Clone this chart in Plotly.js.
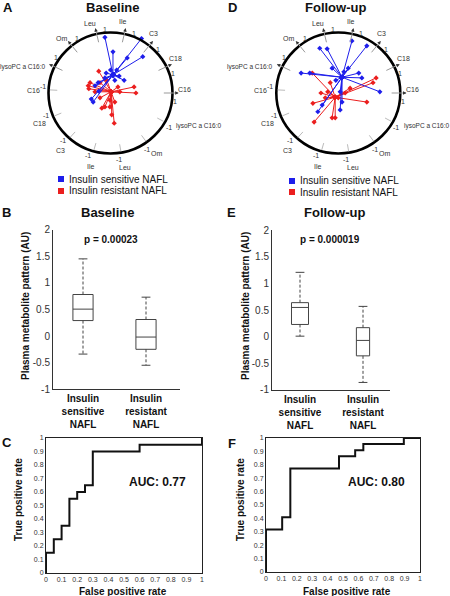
<!DOCTYPE html>
<html><head><meta charset="utf-8">
<script src="https://cdn.plot.ly/plotly-3.0.1.min.js"></script>
<style>html,body{margin:0;padding:0;background:#fff}#chart{width:450px;height:596px}</style>
</head><body><div id="chart"></div>
<script>
// ---------------- DATA ----------------
const metabolites = ['C16','C18','C3','Ile','Leu','Om','lysoPC a C16:0'];
const groupNames = ['Insulin sensitive NAFL','Insulin resistant NAFL'];

// Biplot scores (unit-circle coordinates) - Baseline
const baseSensHub = [0.04, 0.30];
const baseSensX = [-0.09,0.50,0.52,0.27,0.04,0.22,-0.09,-0.31,-0.19,-0.25,0.00,-0.07,0.07,-0.28,-0.20,0.14,0.10];
const baseSensY = [0.92,0.90,0.60,0.58,0.68,0.21,0.25,-0.10,0.03,0.12,0.38,0.33,0.21,-0.15,0.17,0.28,0.38];
const baseResHub = [0.01, 0.02];
const baseResX = [-0.19,-0.33,-0.35,-0.36,-0.25,-0.17,0.38,0.41,0.12,0.07,-0.01,-0.09,0.02,0.06,-0.01,-0.17,0.15,-0.06,-0.14];
const baseResY = [0.36,0.17,0.07,0.12,0.02,0.17,0.10,0.00,0.10,-0.15,-0.23,-0.23,-0.36,-0.50,-0.12,-0.08,0.02,0.21,-0.25];
// Biplot scores - Follow-up
const fuSensHub = [0.06, 0.26];
const fuSensX = [-0.30,-0.18,0.22,0.46,-0.60,-0.46,0.33,0.38,0.67,-0.10,0.16,0.03,0.06,0.03,-0.33,-0.26,0.09,-0.04];
const fuSensY = [0.74,0.73,0.86,0.78,0.33,0.33,0.33,0.25,0.02,0.41,0.41,0.02,-0.15,-0.28,-0.31,-0.20,0.35,0.21];
const fuResHub = [-0.05, -0.07];
const fuResX = [-0.42,0.61,0.56,0.46,0.19,-0.13,-0.17,-0.28,-0.41,-0.39,-0.10,-0.05,0.00,-0.21,0.11];
const fuResY = [0.33,0.25,0.17,-0.15,0.08,0.17,0.02,0.00,-0.17,-0.48,-0.41,-0.41,-0.08,-0.08,0.00];

// Box plot summaries (sensitive, resistant)
const boxCategories = ['Insulin<br>sensitive<br>NAFL','Insulin<br>resistant<br>NAFL'];
const baseLow = [-0.34,-0.55], baseQ1 = [0.29,-0.25], baseMed = [0.505,-0.02], baseQ3 = [0.78,0.31], baseHigh = [1.45,0.73];
const fuLow = [0.01,-0.86], fuQ1 = [0.23,-0.36], fuMed = [0.55,-0.07], fuQ3 = [0.64,0.17], fuHigh = [1.21,0.57];
const pBase = 'p = 0.00023', pFu = 'p = 0.000019';

// ROC curves
const baseFPR = [0,0,0.05,0.10,0.15,0.20,0.25,0.30,0.60,1.0];
const baseTPR = [0,0.15,0.25,0.35,0.55,0.60,0.65,0.90,0.95,1.0];
const fuFPR = [0,0,0.105,0.158,0.474,0.579,0.632,0.895,1.0];
const fuTPR = [0,0.318,0.409,0.773,0.864,0.909,0.955,1.0,1.0];
const aucBase = 'AUC: 0.77', aucFu = 'AUC: 0.80';
const rocTicks = [0,0.1,0.2,0.3,0.4,0.5,0.6,0.7,0.8,0.9,1];
const boxTicks = [-1,-0.5,0,0.5,1,1.5,2];

// ---------------- STYLE / LAYOUT ----------------
const W = 450, H = 596;
const FONT = 'Liberation Sans, Arial, Helvetica, sans-serif';
const BLUE = 'rgb(30,30,235)', RED = 'rgb(235,30,30)';
const px = v => v / W, py = v => 1 - v / H;

const data = [];
const annotations = [];
const shapes = [];
const layout = {
  width: W, height: H, margin: {l:0, r:0, t:0, b:0},
  paper_bgcolor: '#fff', plot_bgcolor: 'rgba(0,0,0,0)',
  showlegend: false, font: {family: FONT, color: '#111'}
};

function spokes(hub, xs, ys) {
  const X = [], Y = [];
  xs.forEach((x, i) => { X.push(hub[0], x, null); Y.push(hub[1], ys[i], null); });
  return {X, Y};
}

// Biplot panel
function biplot(n, cx, cy, sx, sy, sens, res) {
  const xr = 1.7, yr = 1.42;
  const xa = 'xaxis' + (n === 1 ? '' : n), ya = 'yaxis' + (n === 1 ? '' : n);
  const xr_ = 'x' + (n === 1 ? '' : n), yr_ = 'y' + (n === 1 ? '' : n);
  layout[xa] = {domain: [px(cx - xr*sx), px(cx + xr*sx)], range: [-xr, xr], visible: false, anchor: yr_};
  layout[ya] = {domain: [py(cy + yr*sy), py(cy - yr*sy)], range: [-yr, yr], visible: false, anchor: xr_};
  shapes.push({type: 'circle', xref: xr_, yref: yr_, x0: -1, x1: 1, y0: -1, y1: 1, line: {color: '#000', width: 2.6}});
  const lab = {family: FONT, size: 7, color: '#333'};
  const labSmall = {family: FONT, size: 6.5, color: '#333'};
  metabolites.forEach((m, k) => {
    const th = k * Math.PI / 7, d = Math.PI / 180;
    const c = Math.cos(th), s = Math.sin(th);
    const long = k === 6;
    shapes.push({type: 'line', xref: xr_, yref: yr_, x0: 0.86*c, y0: 0.86*s, x1: 1.06*c, y1: 1.06*s, line: {color: '#999', width: 1}});
    annotations.push({xref: xr_, yref: yr_, axref: xr_, ayref: yr_, x: 1.1*c, y: 1.1*s, ax: 1.05*c, ay: 1.05*s,
      text: '', showarrow: true, arrowhead: 2, arrowsize: 0.7, arrowwidth: 1, arrowcolor: '#333'});
    const tp = th + 3*d;
    let xan = 'center', rp = 1.2;
    if (long) { xan = 'right'; rp = 1.1; }
    annotations.push({xref: xr_, yref: yr_, x: rp*Math.cos(tp), y: rp*Math.sin(tp), text: m, showarrow: false, font: long ? labSmall : lab, xanchor: xan, yanchor: 'middle'});
    const t1 = th - 8*d;
    annotations.push({xref: xr_, yref: yr_, x: 1.05*Math.cos(t1), y: 1.05*Math.sin(t1), text: '1', showarrow: false, font: lab});
    const tm = th + Math.PI - 3*d;
    shapes.push({type: 'line', xref: xr_, yref: yr_, x0: 0.86*Math.cos(tm), y0: 0.86*Math.sin(tm), x1: 0.98*Math.cos(tm), y1: 0.98*Math.sin(tm), line: {color: '#bbb', width: 1}});
    const tmm = th + Math.PI - 6*d;
    annotations.push({xref: xr_, yref: yr_, x: 1.1*Math.cos(tmm), y: 1.1*Math.sin(tmm), text: '-1', showarrow: false, font: lab});
    const tn = th + Math.PI - 2*d;
    let rn = 1.25, xn = 'center';
    if (long) { rn = 1.16; xn = 'left'; }
    annotations.push({xref: xr_, yref: yr_, x: rn*Math.cos(tn), y: rn*Math.sin(tn), text: m, showarrow: false, font: long ? labSmall : lab, xanchor: xn});
  });
  [[res, RED], [sens, BLUE]].forEach(([g, col]) => {
    const sp = spokes(g.hub, g.x, g.y);
    data.push({type: 'scatter', mode: 'lines+markers', xaxis: xr_, yaxis: yr_, x: sp.X, y: sp.Y,
      line: {color: col, width: 1}, marker: {color: col, size: 4, symbol: 'diamond'}, hoverinfo: 'skip', cliponaxis: false});
  });
}

biplot(1, 110.5, 93, 62, 60.5, {hub: baseSensHub, x: baseSensX, y: baseSensY}, {hub: baseResHub, x: baseResX, y: baseResY});
biplot(2, 338.3, 93, 62, 60.5, {hub: fuSensHub, x: fuSensX, y: fuSensY}, {hub: fuResHub, x: fuResX, y: fuResY});

// Legends for biplots
function legend(x0, yb, yr) {
  shapes.push({type: 'rect', xref: 'paper', yref: 'paper', x0: px(x0-3), x1: px(x0+3), y0: py(yb+3), y1: py(yb-3), fillcolor: BLUE, line: {width: 0}});
  shapes.push({type: 'rect', xref: 'paper', yref: 'paper', x0: px(x0-3), x1: px(x0+3), y0: py(yr+3), y1: py(yr-3), fillcolor: RED, line: {width: 0}});
  annotations.push({xref: 'paper', yref: 'paper', x: px(x0+6), y: py(yb), text: groupNames[0], showarrow: false, xanchor: 'left', yanchor: 'middle', font: {size: 10, color: '#111'}});
  annotations.push({xref: 'paper', yref: 'paper', x: px(x0+6), y: py(yr), text: groupNames[1], showarrow: false, xanchor: 'left', yanchor: 'middle', font: {size: 10, color: '#111'}});
}
legend(61, 179, 191);
legend(292, 181, 192);

// Box plots
function boxpanel(n, x0px, x1px, zeroPx, catPx, stats, widths) {
  const xa = 'xaxis' + n, ya = 'yaxis' + n, xr_ = 'x' + n, yr_ = 'y' + n;
  const ppu = 63;
  const yppu = 53.2;
  layout[xa] = {domain: [px(x0px), px(x1px)], range: [(x0px - catPx)/ppu, (x1px - catPx)/ppu], anchor: yr_,
    showline: true, linecolor: '#333', linewidth: 1, ticks: '', showgrid: false, zeroline: false,
    tickvals: [0, 1], ticktext: boxCategories, tickfont: {size: 10, weight: 'bold', color: '#111'}};
  layout[ya] = {domain: [py(zeroPx + yppu), py(zeroPx - 2*yppu)], range: [-1, 2], anchor: xr_,
    showline: true, linecolor: '#333', linewidth: 1, ticks: '', showgrid: false, zeroline: false,
    tickvals: boxTicks, ticktext: boxTicks.map(String), tickfont: {size: 10, color: '#333'}};
  [0, 1].forEach(i => {
    data.push({type: 'box', xaxis: xr_, yaxis: yr_, x: [i], q1: [stats.q1[i]], median: [stats.med[i]], q3: [stats.q3[i]],
      lowerfence: [stats.q1[i]], upperfence: [stats.q3[i]], width: widths[i], whiskerwidth: 0,
      fillcolor: '#fff', line: {color: '#444', width: 1}, boxpoints: false, hoverinfo: 'skip'});
    data.push({type: 'scatter', mode: 'lines', xaxis: xr_, yaxis: yr_,
      x: [i, i, null, i, i], y: [stats.q3[i], stats.hi[i], null, stats.q1[i], stats.lo[i]],
      line: {color: '#444', width: 1, dash: '3px,2px'}, hoverinfo: 'skip'});
    const cw = 0.07;
    data.push({type: 'scatter', mode: 'lines', xaxis: xr_, yaxis: yr_,
      x: [i-cw, i+cw, null, i-cw, i+cw], y: [stats.hi[i], stats.hi[i], null, stats.lo[i], stats.lo[i]],
      line: {color: '#444', width: 1}, hoverinfo: 'skip'});
  });
}
boxpanel(3, 53, 180, 336, 83, {lo: baseLow, q1: baseQ1, med: baseMed, q3: baseQ3, hi: baseHigh}, [0.32, 0.32]);
boxpanel(4, 272, 390, 336.7, 300, {lo: fuLow, q1: fuQ1, med: fuMed, q3: fuQ3, hi: fuHigh}, [0.27, 0.21]);

// ROC panels
function rocpanel(n, l, r, t, b, fpr, tpr) {
  const xa = 'xaxis' + n, ya = 'yaxis' + n, xr_ = 'x' + n, yr_ = 'y' + n;
  const common = {showline: true, mirror: true, linecolor: '#222', linewidth: 1, ticks: '', showgrid: false, zeroline: false,
    range: [0, 1], tickvals: rocTicks, ticktext: rocTicks.map(String), tickfont: {size: 7, color: '#333'}};
  layout[xa] = Object.assign({}, common, {domain: [px(l), px(r)], anchor: yr_});
  layout[ya] = Object.assign({}, common, {domain: [py(b), py(t)], anchor: xr_});
  data.push({type: 'scatter', mode: 'lines', xaxis: xr_, yaxis: yr_, x: fpr, y: tpr,
    line: {color: '#111', width: 2, shape: 'hv'}, hoverinfo: 'skip', cliponaxis: false});
}
rocpanel(5, 46, 202, 438, 573, baseFPR, baseTPR);
rocpanel(6, 266, 420, 438, 572, fuFPR, fuTPR);

// Text annotations (titles, letters, stats, axis titles)
function txt(x, y, text, size, bold, extra) {
  annotations.push(Object.assign({xref: 'paper', yref: 'paper', x: px(x), y: py(y), text: text, showarrow: false,
    xanchor: 'center', yanchor: 'middle', font: {size: size, weight: bold ? 'bold' : 'normal', color: '#111'}}, extra || {}));
}
txt(8, 8, 'A', 13, true); txt(232, 8, 'D', 13, true);
txt(112, 8, 'Baseline', 13, true); txt(335, 8, 'Follow-up', 13, true);
txt(6, 212, 'B', 13, true); txt(231, 212, 'E', 13, true);
txt(107, 212, 'Baseline', 13, true); txt(334, 212, 'Follow-up', 13, true);
txt(111, 239, pBase, 10, true); txt(330, 239, pFu, 10, true);
txt(25, 306, 'Plasma metabolite pattern (AU)', 10, true, {textangle: -90});
txt(245, 306, 'Plasma metabolite pattern (AU)', 10, true, {textangle: -90});
txt(7, 442, 'C', 13, true); txt(232, 443, 'F', 13, true);
txt(157, 482, aucBase, 12, true); txt(376, 482, aucFu, 12, true);
txt(18, 500, 'True positive rate', 10, true, {textangle: -90});
txt(240, 500, 'True positive rate', 10, true, {textangle: -90});
txt(123, 591, 'False positive rate', 10, true); txt(347, 591, 'False positive rate', 10, true);

layout.annotations = annotations;
layout.shapes = shapes;
Plotly.newPlot('chart', data, layout, {staticPlot: true, displayModeBar: false});
</script></body></html>
